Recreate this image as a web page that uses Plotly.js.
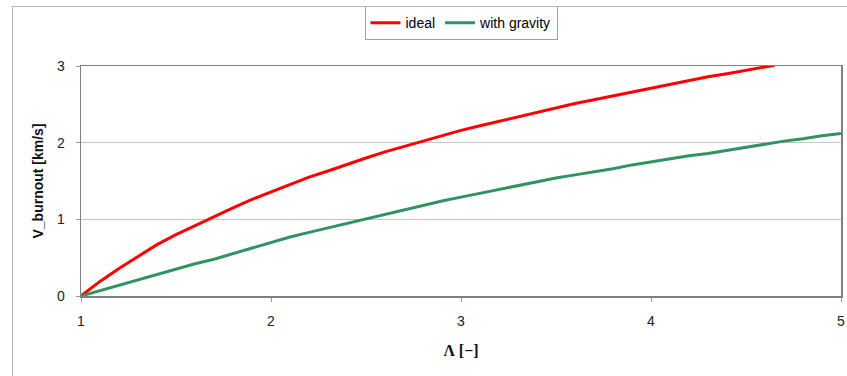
<!DOCTYPE html>
<html>
<head>
<meta charset="utf-8">
<script src="https://cdn.plot.ly/plotly-3.0.1.min.js"></script>
<style>
  html, body { margin: 0; padding: 0; background: #ffffff; }
  #chart { width: 847px; height: 376px; position: absolute; left: 0; top: 0; }
  #frame { position: absolute; left: 12px; top: 6px; width: 900px; height: 420px;
           border: 1px solid #b8b8b8; pointer-events: none; box-sizing: border-box; }
</style>
</head>
<body>
<div id="chart"></div>
<div id="frame"></div>
<script>
// Mass ratio Λ
const lambdaIdeal = [1.0, 1.1, 1.2, 1.3, 1.4, 1.5, 1.6, 1.7, 1.8, 1.9, 2.0, 2.1, 2.2, 2.3, 2.4, 2.5, 2.6, 2.7, 2.8, 2.9, 3.0, 3.1, 3.2, 3.3, 3.4, 3.5, 3.6, 3.7, 3.8, 3.9, 4.0, 4.1, 4.2, 4.3, 4.4, 4.5, 4.6, 4.65];
const vIdeal = [0.00, 0.19, 0.36, 0.52, 0.67, 0.80, 0.92, 1.04, 1.15, 1.26, 1.36, 1.45, 1.55, 1.63, 1.72, 1.80, 1.88, 1.95, 2.02, 2.09, 2.16, 2.22, 2.28, 2.34, 2.40, 2.46, 2.51, 2.56, 2.61, 2.66, 2.71, 2.76, 2.81, 2.86, 2.90, 2.94, 2.98, 3.01];
const lambdaGravity = [1.0, 1.1, 1.2, 1.3, 1.4, 1.5, 1.6, 1.7, 1.8, 1.9, 2.0, 2.1, 2.2, 2.3, 2.4, 2.5, 2.6, 2.7, 2.8, 2.9, 3.0, 3.1, 3.2, 3.3, 3.4, 3.5, 3.6, 3.7, 3.8, 3.9, 4.0, 4.1, 4.2, 4.3, 4.4, 4.5, 4.6, 4.7, 4.8, 4.9, 5.0];
const vGravity = [0.00, 0.07, 0.14, 0.21, 0.28, 0.35, 0.42, 0.48, 0.55, 0.62, 0.70, 0.77, 0.83, 0.89, 0.95, 1.01, 1.07, 1.13, 1.18, 1.24, 1.29, 1.34, 1.39, 1.44, 1.49, 1.54, 1.58, 1.62, 1.66, 1.71, 1.75, 1.79, 1.83, 1.86, 1.90, 1.94, 1.98, 2.02, 2.05, 2.09, 2.12];
const seriesNames = ["ideal", "with gravity"];
const xTicks = [1, 2, 3, 4, 5];
const yTicks = [0, 1, 2, 3];

const traces = [
  { x: lambdaIdeal, y: vIdeal, name: seriesNames[0], type: "scatter", mode: "lines",
    line: { color: "#ff0000", width: 3 } },
  { x: lambdaGravity, y: vGravity, name: seriesNames[1], type: "scatter", mode: "lines",
    line: { color: "#2f9463", width: 3 } }
];

const axisCommon = {
  showline: true, mirror: true, linecolor: "#7f7f7f", linewidth: 1.5,
  ticks: "outside", ticklen: 4, tickcolor: "#9a9a9a", tickwidth: 1,
  zeroline: false, tickfont: { family: "Liberation Sans, Arial, sans-serif", size: 14, color: "#222" }
};

const layout = {
  width: 847, height: 376,
  margin: { l: 81, r: 6, t: 66, b: 80 },
  paper_bgcolor: "rgba(0,0,0,0)",
  plot_bgcolor: "#ffffff",
  showlegend: true,
  legend: {
    orientation: "h", x: 0.5, xanchor: "center", y: 1.26, yanchor: "top",
    bordercolor: "#a0a0a0", borderwidth: 1, bgcolor: "#ffffff",
    font: { family: "Liberation Sans, Arial, sans-serif", size: 14, color: "#000" },
    tracegroupgap: 0
  },
  xaxis: Object.assign({}, axisCommon, {
    range: [1, 5], tickvals: xTicks, showgrid: false, ticklabelstandoff: 8,
    title: { text: "<b>Λ [−]</b>", font: { family: "Liberation Serif, Times New Roman, serif", size: 16, color: "#111" }, standoff: 16 }
  }),
  yaxis: Object.assign({}, axisCommon, {
    range: [0, 3], tickvals: yTicks, showgrid: true, gridcolor: "#c4c4c4", gridwidth: 1, ticklabelstandoff: 8,
    title: { text: "<b>V_burnout [km/s]</b>", font: { family: "Liberation Sans, Arial, sans-serif", size: 14, color: "#111" }, standoff: 10 }
  })
};

Plotly.newPlot("chart", traces, layout, { displayModeBar: false, staticPlot: true });
</script>
</body>
</html>
